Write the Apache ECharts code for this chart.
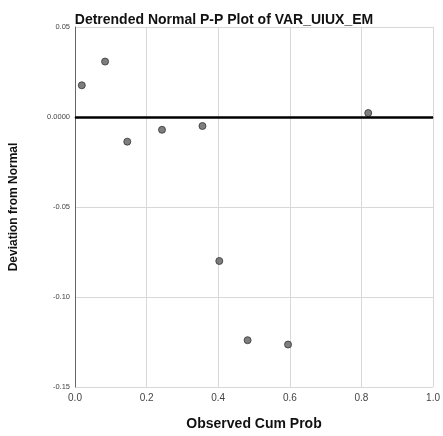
<!DOCTYPE html>
<html>
<head>
<meta charset="utf-8">
<script src="https://cdn.jsdelivr.net/npm/echarts@6/dist/echarts.min.js"></script>
<style>
  html, body { margin: 0; padding: 0; background: #fff; }
  #chart { width: 443px; height: 436px; }
</style>
</head>
<body>
<div id="chart"></div>
<script>
// observed cumulative probability
const observedCumProb = [0.019, 0.084, 0.146, 0.243, 0.356, 0.403, 0.482, 0.595, 0.819]
// deviation from normal
const deviation = [0.0176, 0.0308, -0.0137, -0.0071, -0.0050, -0.0800, -0.1240, -0.1264, 0.0022]
const yTickLabels = { '0.05': '0.05', '0': '0.0000', '-0.05': '-0.05', '-0.1': '-0.10', '-0.15': '-0.15' }

const myChart = echarts.init(document.getElementById('chart'))
const option = {
  animation: false,
  title: {
    text: 'Detrended Normal P-P Plot of VAR_UIUX_EM',
    left: 219,
    top: 8,
    textAlign: 'center',
    textStyle: { fontFamily: 'Liberation Sans', fontSize: 14, fontWeight: 'bold', color: '#111' }
  },
  grid: { left: 74, right: 7, top: 27, bottom: 45 },
  xAxis: {
    type: 'value',
    min: 0,
    max: 1,
    interval: 0.2,
    name: 'Observed Cum Prob',
    nameLocation: 'middle',
    nameGap: 30,
    nameTextStyle: { fontFamily: 'Liberation Sans', fontSize: 14, fontWeight: 'bold', color: '#111' },
    axisLine: { lineStyle: { color: '#666', width: 1 } },
    axisTick: { show: false },
    axisLabel: { fontFamily: 'Liberation Sans', fontSize: 10, color: '#444', margin: 6, formatter: v => v.toFixed(1) },
    splitLine: { lineStyle: { color: '#d8d8d8', width: 1 } }
  },
  yAxis: {
    type: 'value',
    min: -0.15,
    max: 0.05,
    interval: 0.05,
    name: 'Deviation from Normal',
    nameLocation: 'middle',
    nameGap: 55,
    nameTextStyle: { fontFamily: 'Liberation Sans', fontSize: 12, fontWeight: 'bold', color: '#111' },
    axisLine: { show: true, lineStyle: { color: '#666', width: 1 } },
    axisTick: { show: false },
    axisLabel: {
      fontFamily: 'Liberation Sans',
      fontSize: 7.5,
      color: '#444',
      margin: 5,
      formatter: v => yTickLabels[String(Math.round(v * 100) / 100)] || ''
    },
    splitLine: { lineStyle: { color: '#d8d8d8', width: 1 } }
  },
  series: [
    {
      type: 'scatter',
      data: observedCumProb.map((x, i) => [x, deviation[i]]),
      symbolSize: 7,
      itemStyle: { color: '#5e5e5e', borderColor: '#333', borderWidth: 1 },
      markLine: {
        silent: true,
        symbol: 'none',
        label: { show: false },
        lineStyle: { color: '#000', width: 2.5, type: 'solid' },
        data: [{ yAxis: 0 }]
      },
      z: 3
    }
  ]
}
myChart.setOption(option)
</script>
</body>
</html>
